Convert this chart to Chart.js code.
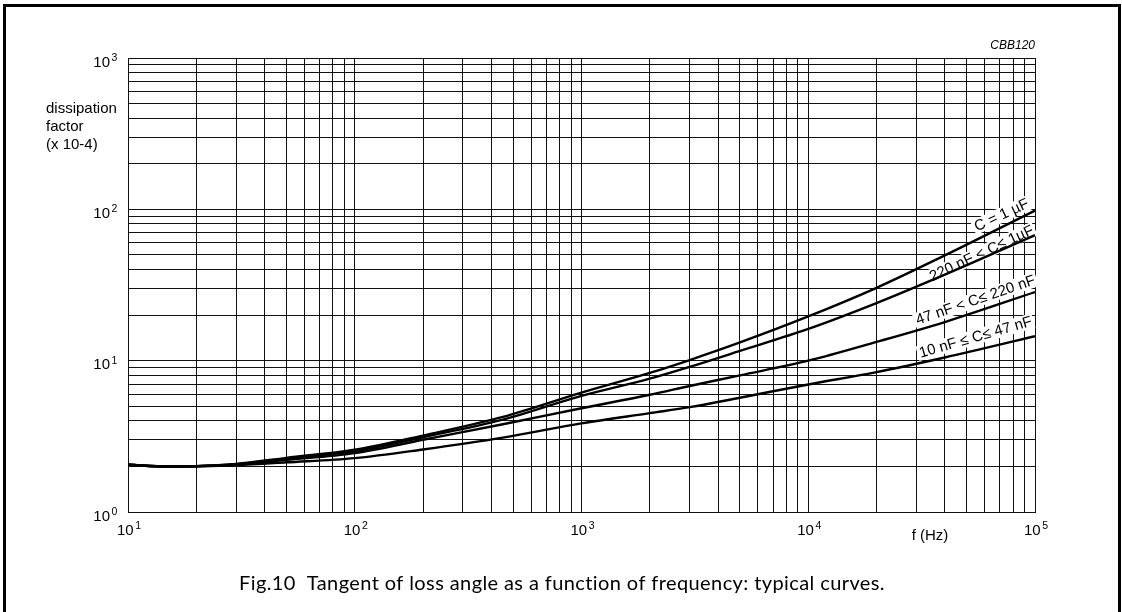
<!DOCTYPE html>
<html>
<head>
<meta charset="utf-8">
<script src="https://cdn.jsdelivr.net/npm/chart.js@4.4.0/dist/chart.umd.min.js"></script>
<style>
  html, body { margin: 0; padding: 0; background: #fff; }
  #wrap { width: 1122px; height: 612px; }
</style>
</head>
<body>
<div id="wrap"><canvas id="chart" width="1122" height="612"></canvas></div>
<script>
// frequency points (Hz)
const freqs = [10, 15, 20, 30, 50, 100, 200, 450, 1000, 2000, 3000, 5000, 10000, 20000, 40000, 100000];

// dissipation factor (x 10-4)
const c1uF     = [2.05, 2.0, 2.01, 2.08, 2.28, 2.58, 3.2, 4.25, 6.15, 8.3, 10.1, 13.2, 19.6, 30.3, 49.6, 98];
const c220nF   = [2.05, 2.0, 2.01, 2.07, 2.26, 2.52, 3.12, 4.08, 5.85, 7.6, 9.1, 11.6, 16.2, 24.0, 37.0, 67.5];
const c47nF    = [2.05, 2.0, 2.01, 2.06, 2.21, 2.45, 3.0, 3.8, 4.85, 5.95, 6.8, 8.0, 10.0, 13.3, 18.0, 28.4];
const c10nF    = [2.05, 2.0, 2.0, 2.04, 2.13, 2.27, 2.59, 3.1, 3.85, 4.5, 4.93, 5.69, 6.96, 8.4, 10.5, 14.5];

const curveLabels = ['C = 1 \u00b5F', '220 nF < C\u2264 1\u00b5F', '47 nF < C\u2264 220 nF', '10 nF \u2264 C\u2264 47 nF'];

// decade exponents for tick labels
const xDecades = [1, 2, 3, 4, 5];
const yDecades = [0, 1, 2, 3];

const yTitle = ['dissipation', 'factor', '(x 10-4)'];
const xTitle = 'f (Hz)';
const figCode = 'CBB120';
const caption = 'Fig.10  Tangent of loss angle as a function of frequency: typical curves.';

// label placement on the curves, in data units
const labelPos = [
    { f: 71300, v: 91, angle: -25 },
    { f: 58200, v: 50.9, angle: -25 },
    { f: 54700, v: 25.0, angle: -19 },
    { f: 54700, v: 14.2, angle: -16 }
];

const FONT = '"Liberation Sans", Arial, sans-serif';

function logTicks(min, max) {
    const out = [];
    for (let e = Math.round(Math.log10(min)); e < Math.round(Math.log10(max)); e++) {
        for (let m = 1; m < 10; m++) out.push({ value: m * Math.pow(10, e) });
    }
    out.push({ value: max });
    return out;
}

const toPts = vals => freqs.map((f, i) => ({ x: f, y: vals[i] }));

const lineStyle = {
    borderColor: '#000',
    borderWidth: 2.4,
    pointRadius: 0,
    fill: false,
    cubicInterpolationMode: 'monotone'
};

const decorations = {
    id: 'decorations',
    beforeDatasetsDraw(chart) {
        // white knockout boxes behind the curve labels
        const ctx = chart.ctx;
        const xs = chart.scales.x, ys = chart.scales.y;
        ctx.save();
        ctx.font = '15px ' + FONT;
        labelPos.forEach((p, i) => {
            const px = xs.getPixelForValue(p.f);
            const py = ys.getPixelForValue(p.v);
            const w = ctx.measureText(curveLabels[i]).width;
            ctx.save();
            ctx.translate(px, py);
            ctx.rotate(p.angle * Math.PI / 180);
            ctx.fillStyle = '#fff';
            ctx.fillRect(-w / 2 - 2, -8, w + 4, 15);
            ctx.fillStyle = '#000';
            ctx.textAlign = 'center';
            ctx.textBaseline = 'middle';
            ctx.fillText(curveLabels[i], 0, 0);
            ctx.restore();
        });
        ctx.restore();
    },
    afterDraw(chart) {
        const ctx = chart.ctx;
        const xs = chart.scales.x, ys = chart.scales.y;
        ctx.save();
        ctx.fillStyle = '#000';

        // y tick labels 10^n
        yDecades.forEach(d => {
            const py = ys.getPixelForValue(Math.pow(10, d));
            ctx.font = '15px ' + FONT;
            ctx.textAlign = 'right';
            ctx.textBaseline = 'alphabetic';
            ctx.fillText('10', 110, py + 8.5);
            ctx.font = '10.5px ' + FONT;
            ctx.textAlign = 'left';
            ctx.fillText(String(d), 111.5, py + 3);
        });

        // x tick labels 10^n
        xDecades.forEach(d => {
            const px = xs.getPixelForValue(Math.pow(10, d));
            ctx.font = '15px ' + FONT;
            ctx.textAlign = 'left';
            ctx.textBaseline = 'alphabetic';
            const w = ctx.measureText('10').width;
            ctx.fillText('10', px - 11, 535);
            ctx.font = '10.5px ' + FONT;
            ctx.fillText(String(d), px - 11 + w + 1.5, 529);
        });

        // axis titles
        ctx.font = '15px ' + FONT;
        ctx.textAlign = 'left';
        yTitle.forEach((t, i) => ctx.fillText(t, 46, 113 + i * 18));
        ctx.textAlign = 'center';
        ctx.fillText(xTitle, 930, 540);

        ctx.font = 'italic 12px ' + FONT;
        ctx.textAlign = 'right';
        ctx.fillText(figCode, xs.right, 49);

        ctx.font = '20px Lato, "Open Sans", sans-serif';
        ctx.letterSpacing = '0.4px';
        ctx.textAlign = 'center';
        ctx.fillText(caption, 562, 590);
        ctx.letterSpacing = '0px';

        // frame
        ctx.strokeStyle = '#000';
        ctx.lineWidth = 3;
        ctx.beginPath();
        ctx.moveTo(4.5, 612);
        ctx.lineTo(4.5, 5.5);
        ctx.lineTo(1119.5, 5.5);
        ctx.lineTo(1119.5, 612);
        ctx.stroke();
        ctx.restore();
    }
};

const gridOpts = { color: '#111', lineWidth: 1, drawTicks: false };

new Chart(document.getElementById('chart').getContext('2d'), {
    type: 'line',
    data: {
        datasets: [
            { ...lineStyle, label: curveLabels[0], data: toPts(c1uF) },
            { ...lineStyle, label: curveLabels[1], data: toPts(c220nF) },
            { ...lineStyle, label: curveLabels[2], data: toPts(c47nF) },
            { ...lineStyle, label: curveLabels[3], data: toPts(c10nF) }
        ]
    },
    options: {
        responsive: false,
        animation: false,
        layout: { padding: { top: 58, right: 87, left: 0, bottom: 0 } },
        plugins: { legend: { display: false }, tooltip: { enabled: false } },
        scales: {
            x: {
                type: 'logarithmic',
                min: 10,
                max: 100000,
                grid: gridOpts,
                border: { color: '#111', width: 1 },
                ticks: { display: false },
                afterBuildTicks: s => { s.ticks = logTicks(10, 100000); },
                afterFit: s => { s.height = 100; }
            },
            y: {
                type: 'logarithmic',
                min: 1,
                max: 1000,
                grid: gridOpts,
                border: { color: '#111', width: 1 },
                ticks: { display: false },
                afterBuildTicks: s => { s.ticks = logTicks(1, 1000); },
                afterFit: s => { s.width = 128; }
            }
        }
    },
    plugins: [decorations]
});
</script>
</body>
</html>
